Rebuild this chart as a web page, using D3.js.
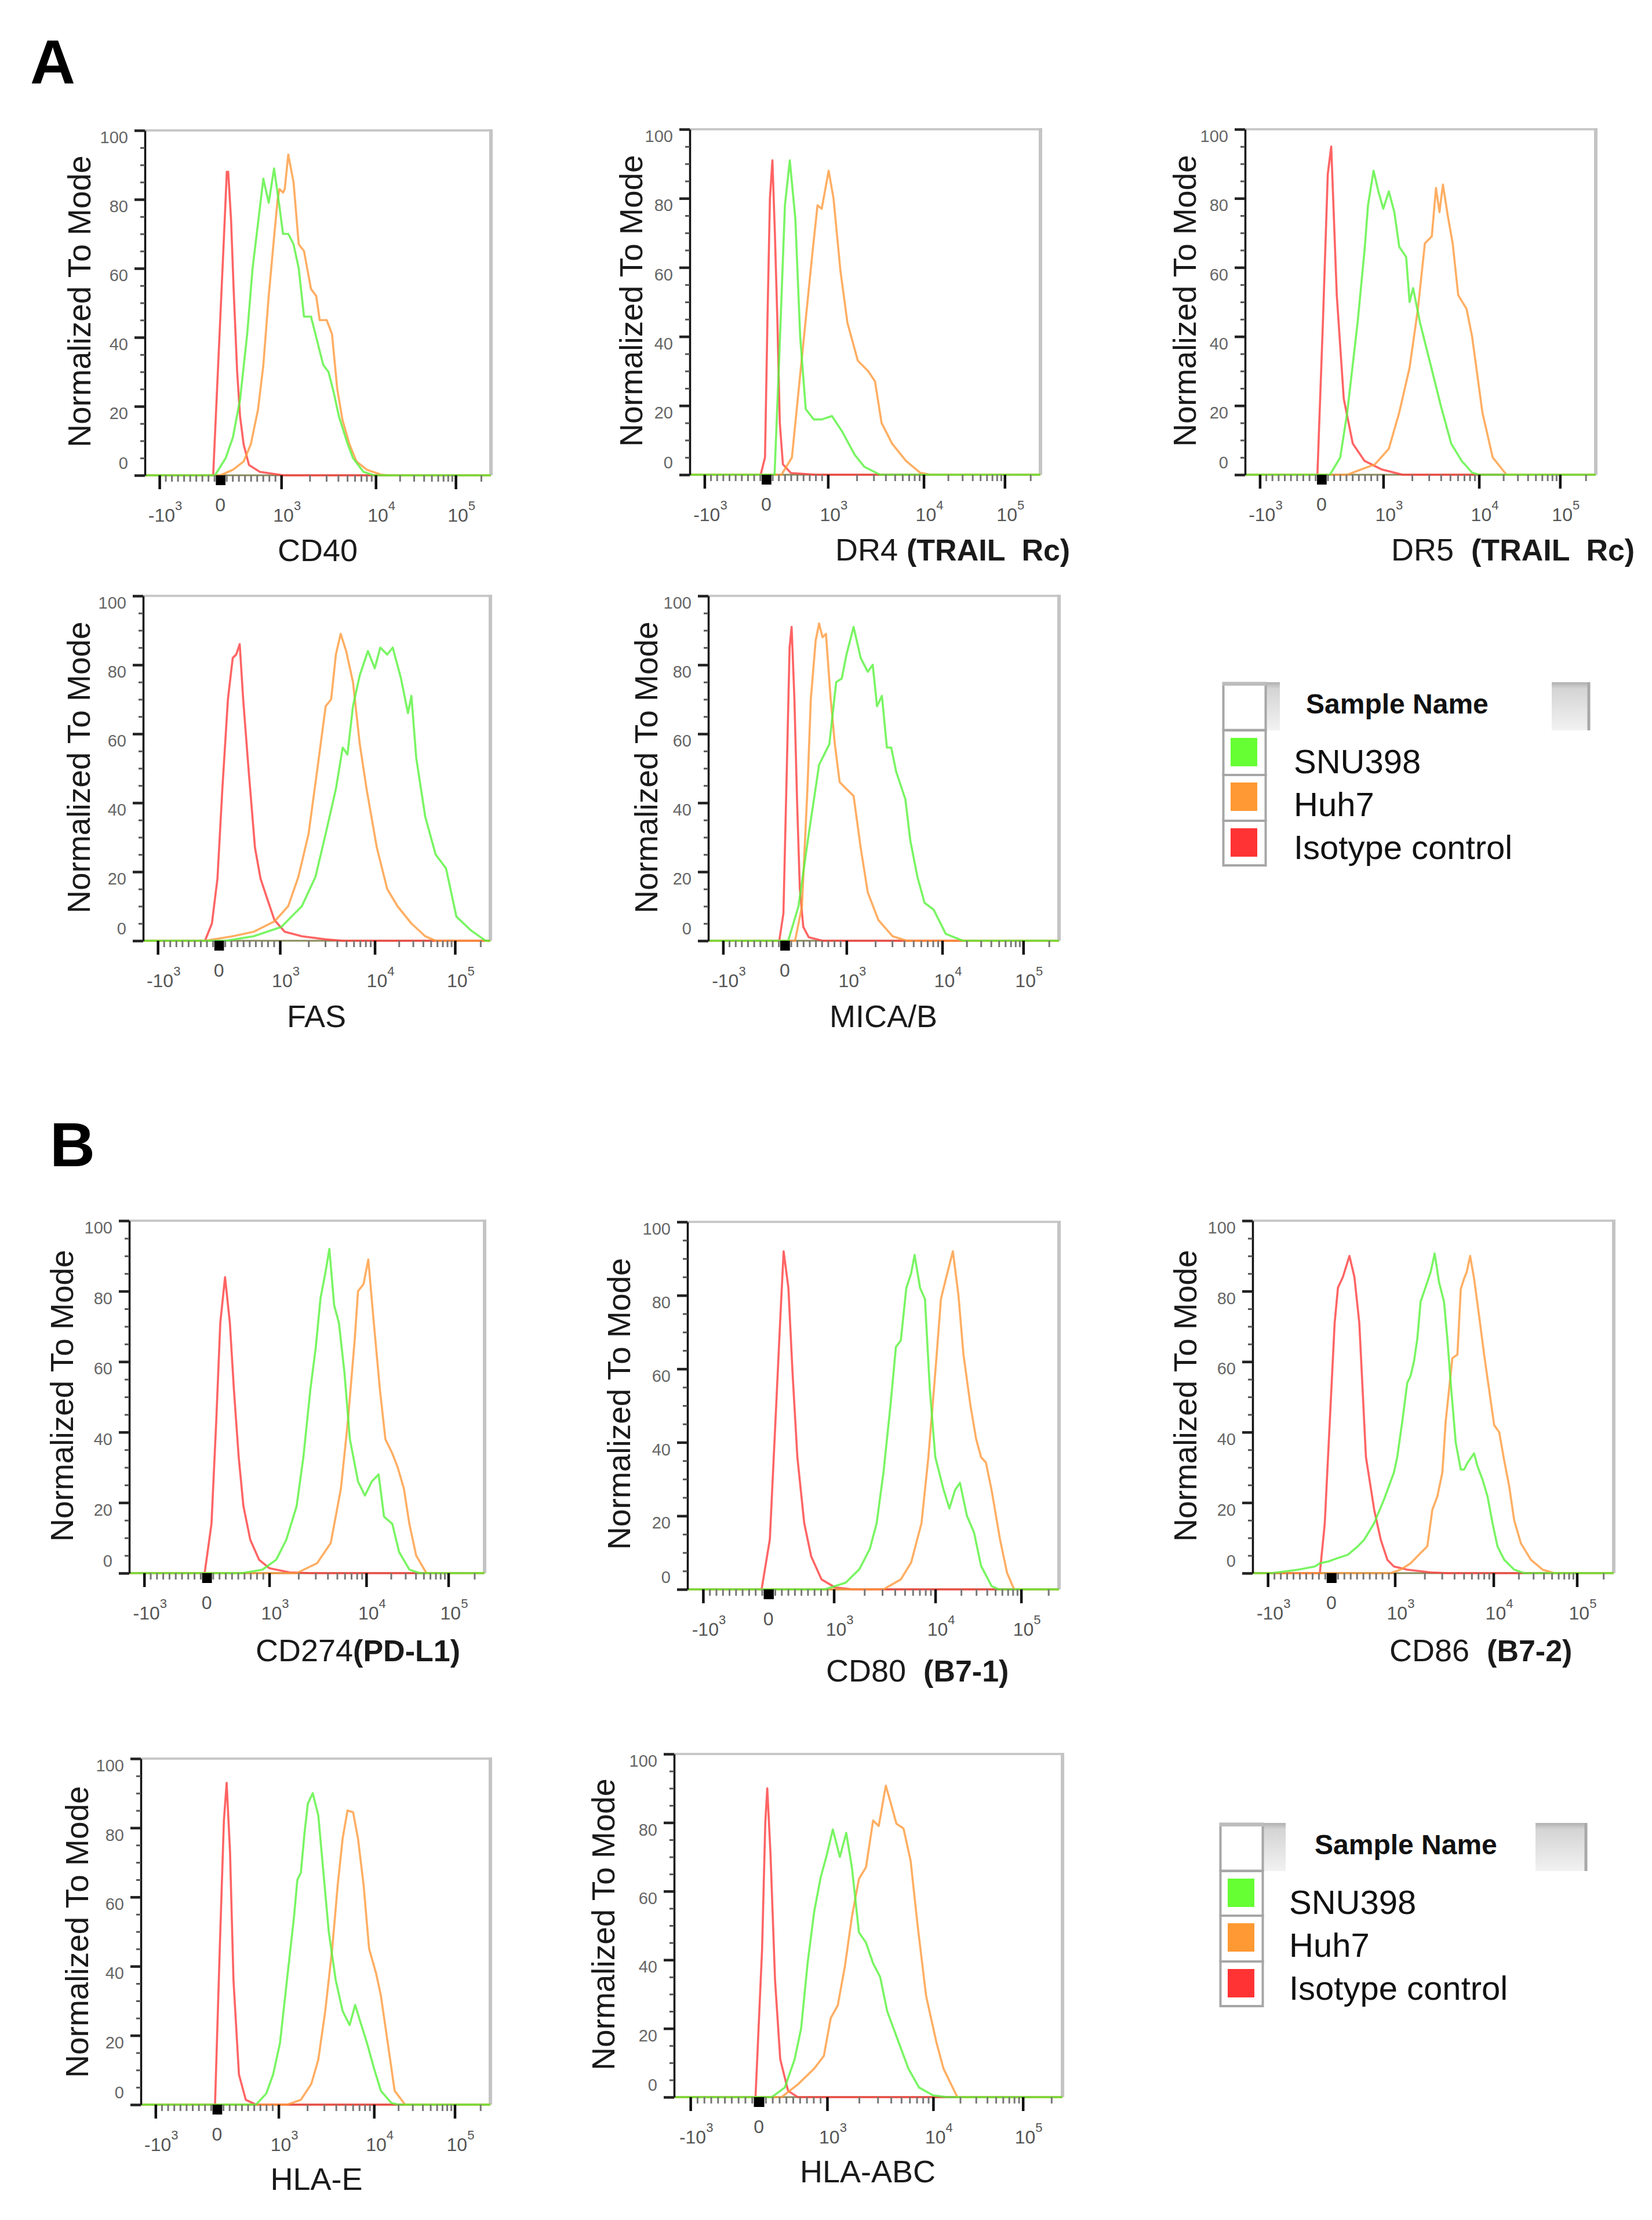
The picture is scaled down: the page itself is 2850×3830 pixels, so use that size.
<!DOCTYPE html>
<html>
<head>
<meta charset="utf-8">
<script src="https://cdn.jsdelivr.net/npm/d3@7"></script>
<style>
  body { margin: 0; background: #fff; }
  svg { display: block; }
  text { font-family: Arial, "Liberation Sans", sans-serif; }
</style>
</head>
<body>
<svg id="fig" width="2850" height="3830"></svg>
<script>
// ---------- samples ----------
var sampleNames = ["SNU398", "Huh7", "Isotype control"];
var swatchColors = ["#66ff33", "#ff9933", "#ff3333"];
var lineColors = ["#58f23c", "#ff9a3c", "#ff3d3d"];

// ---------- axis ticks ----------
var yMajorTicks = [0, 20, 40, 60, 80, 100];
var yMinorTicks = [5, 10, 15, 25, 30, 35, 45, 50, 55, 65, 70, 75, 85, 90, 95];
var xMajorTicks = [-1000, 1000, 10000, 100000];
var xZeroTicks = [-55, -18, 18, 55];
var xMinorTicks = [-900, -800, -700, -600, -500, -400, -300, -200, -100,
  100, 200, 300, 400, 500, 600, 700, 800, 900,
  2000, 3000, 4000, 5000, 6000, 7000, 8000, 9000,
  20000, 30000, 40000, 50000, 60000, 70000, 80000, 90000, 200000];
var xLabelVals = [-1000, 0, 1000, 10000, 100000];
var xLabelBase = ["-10", "0", "10", "10", "10"];
var xLabelExp = ["3", "", "3", "4", "5"];

// ---------- histograms: [fluorescence, % of mode] ----------
var cd40Snu = [[-1700,0],[-88,0],[88,5],[206,11],[324,22],[441,41],[529,60],[618,73],[706,86],[794,79],[882,89],[970,78],[1044,70],[1186,70],[1349,67],[1531,60],[1742,46],[2065,46],[2449,38],[2781,32],[3162,30],[3594,24],[4083,17],[5058,9],[5742,5],[7413,1],[9572,0],[262000,0]];
var cd40Huh = [[-1700,0],[0,0],[206,1.6],[382,4],[500,9],[618,19],[706,32],[794,52],[882,69],[941,80],[970,83],[1044,82],[1089,83],[1186,93],[1349,85],[1531,67],[1742,65],[2065,54],[2344,52],[2553,45],[3027,45],[3443,41],[3917,25],[4450,16],[5275,9],[6250,4],[8072,1.6],[11660,0.2],[14310,0],[262000,0]];
var cd40Iso = [[-1700,0],[-118,0],[-59,23],[0,46],[59,69],[106,88],[129,88],[176,74],[218,54],[276,30],[324,17],[382,9],[470,3],[647,1],[1050,0],[262000,0]];

var dr4Snu = [[-1700,0],[135,0],[213,35],[303,78],[382,91],[472,74],[550,40],[640,19],[770,16],[900,16],[1100,17],[1400,12.6],[1900,5.8],[2400,2.3],[3500,0],[262000,0]];
var dr4Huh = [[-1700,0],[247,0],[416,5],[584,35],[753,65],[831,78],[899,77],[1017,88],[1143,80],[1350,59],[1597,44],[2050,33],[2630,30],[3100,27],[3630,15],[4680,9],[6530,4],[9150,0.6],[12200,0],[262000,0]];
var dr4Iso = [[-1700,0],[-90,0],[-20,5],[20,45],[60,80],[100,91],[140,70],[180,45],[220,15],[270,3],[400,0.5],[800,0],[262000,0]];

var dr5Snu = [[-1700,0],[135,0],[303,5],[416,18],[584,44],[697,65],[753,78],[843,88],[921,82],[1000,77],[1143,82],[1306,76],[1469,66],[1735,63],[1884,50],[2051,54],[2421,44],[3112,32],[3990,20],[5128,9],[6590,4],[8471,0.6],[10000,0],[262000,0]];
var dr5Huh = [[-1700,0],[416,0],[640,1.5],[865,3],[1143,7.5],[1469,18],[1884,31],[2301,48],[2723,67],[3214,69],[3556,83],[3865,76],[4200,84],[4720,75],[5309,67],[6067,52],[7413,48],[8471,40],[11020,18],[14760,5],[21830,0],[262000,0]];
var dr5Iso = [[-1700,0],[-67,0],[22,44],[101,87],[157,95],[247,52],[360,22],[506,9],[697,4],[978,1.5],[1597,0],[262000,0]];

var fasSnu = [[-1700,0],[114,0],[568,1.3],[1033,4],[1700,10],[2366,18.5],[3033,31],[3890,44],[4590,56],[5150,54],[5890,68],[6950,77],[8470,84],[10000,79],[11720,85],[14300,83],[16750,85],[21270,76],[25950,66],[28640,71],[32900,53],[42580,36],[57390,25],[77300,21],[104000,7],[154500,3],[230000,0],[262000,0]];
var fasHuh = [[-1700,0],[-227,0],[227,1.3],[568,2.6],[909,5.6],[1220,10],[1563,18.5],[2004,31],[2570,53],[3033,68],[3467,70],[3890,83],[4370,89],[4990,84],[5890,75],[6950,57],[8200,44],[10610,27],[14300,15],[19240,10],[28640,5],[42580,1.3],[57390,0],[262000,0]];
var fasIso = [[-1700,0],[-227,0],[-114,5],[-23,18],[57,44],[148,70],[227,82],[284,83],[341,86],[398,70],[489,49],[591,27],[682,18],[795,12],[909,6],[1123,2.6],[1700,1.3],[3033,0.4],[4590,0],[262000,0]];

var micaSnu = [[-1700,0],[56,0],[222,10],[389,31],[556,51],[722,57],[833,75],[922,76],[1000,83],[1186,91],[1406,82],[1668,78],[1879,80],[2084,68],[2344,71],[2642,56],[2931,56],[3304,49],[4121,41],[4642,29],[5508,18.5],[6531,11],[8147,9],[11040,2],[18030,0],[262000,0]];
var micaHuh = [[-1700,0],[167,0],[278,10],[367,44],[422,70],[500,87],[556,92],[611,88],[667,89],[744,70],[811,57],[889,46],[1000,44],[1186,42],[1406,27],[1668,14],[2154,6],[3030,1.3],[4260,0],[262000,0]];
var micaIso = [[-1700,0],[-89,0],[-22,8],[33,50],[78,85],[111,91],[156,70],[200,40],[244,15],[300,4],[389,1],[611,0],[262000,0]];

var cd274Snu = [[-1700,0],[565,0],[891,1],[1180,3.8],[1500,9.5],[1914,19],[2250,33],[2650,52],[3015,64],[3375,78],[3777,85],[4165,92],[4667,76],[5226,71],[5953,57],[6780,38],[8225,26],[9683,22],[11660,26],[14130,28],[16480,16],[20740,14],[25120,6],[33500,1],[44670,0],[262000,0]];
var cd274Huh = [[-1700,0],[1914,0],[3110,2.8],[4300,8.5],[5480,24],[6460,43],[7590,66],[8225,80],[9370,82],[10590,89],[12360,71],[14680,52],[17110,38],[20740,34],[24170,30],[28710,24],[33500,14],[40550,5],[54070,0],[262000,0]];
var cd274Iso = [[-1700,0],[-33,0],[76,14],[152,43],[217,71],[293,84],[370,71],[435,52],[511,33],[587,19],[696,9.5],[837,3.8],[1000,1.4],[1626,0.2],[2650,0],[262000,0]];

var cd80Snu = [[-1700,0],[863,0],[1307,1.8],[1787,5.5],[2262,11],[2642,18],[3090,32],[3614,50],[4093,66],[4570,67.7],[5180,82],[5780,86],[6250,91],[7080,82],[7910,79],[8830,54.5],[10000,36],[12540,27],[14590,22],[16990,27],[19370,29],[23390,20],[28250,15.5],[34120,6.4],[45290,0.9],[54700,0],[262000,0]];
var cd80Huh = [[-1700,0],[3090,0],[4570,2.7],[5780,7.3],[7310,18],[8550,36],[10000,59],[11640,79],[13280,84.5],[16030,92],[18620,80],[21270,64],[25700,50],[29850,41],[34120,36],[38900,34.5],[45290,27],[56750,13.6],[68550,4.5],[82800,0],[262000,0]];
var cd80Iso = [[-1700,0],[-105,0],[21,13.6],[105,45],[179,73],[232,92],[305,82],[368,59],[442,36],[547,18],[653,9],[811,2.7],[1033,0.5],[1527,0],[262000,0]];

var cd86Snu = [[-1700,0],[-933,0],[-518,1],[-259,1.9],[-181,2.8],[-52,3.3],[104,4.3],[259,5.2],[415,7.6],[518,9.5],[674,14.2],[829,20.9],[984,28.5],[1057,33],[1188,43],[1335,54],[1443,56],[1560,60],[1687,66.5],[1823,77],[2133,82.6],[2307,85.5],[2531,90.7],[2800,82.6],[3150,77],[3404,66.5],[3681,54],[4141,37],[4657,29.4],[5036,29.4],[5446,31.3],[6355,34],[6871,30.4],[7730,26.6],[8695,21.8],[9772,14.2],[11170,7.6],[13430,3.8],[17700,1],[23330,0],[262000,0]];
var cd86Huh = [[-1700,0],[933,0],[1142,1],[1443,2.8],[1823,5.7],[2133,7.6],[2398,18],[2697,21.8],[3028,28.5],[3273,43],[3540,52],[3828,61],[4305,62],[4657,80.6],[5036,83.6],[5359,85.5],[5794,90],[6355,83.6],[7146,73],[8035,62],[9033,52],[10190,42],[11700,40],[13430,32],[15420,24.7],[17700,15],[21280,8.5],[28050,3.8],[38730,1],[53460,0],[262000,0]];
var cd86Iso = [[-1700,0],[-181,0],[-104,14],[-52,33],[0,52],[52,71],[104,81],[181,84],[285,90],[363,84],[440,71],[492,52],[544,33],[596,27],[674,18],[777,9.5],[881,3.8],[984,1.9],[1333,1],[2300,0.2],[3400,0],[262000,0]];

var hlaeSnu = [[-1700,0],[633,0],[800,3.2],[911,8.7],[1035,17.8],[1224,36],[1448,54],[1574,65],[1713,67],[1862,78],[2026,87],[2281,90],[2608,83.6],[2931,68],[3357,50],[3970,36],[4697,27],[5556,23],[6353,28.8],[7142,24.2],[8449,17.8],[10000,10.5],[12170,4],[16370,0.5],[19900,0],[262000,0]];
var hlaeHuh = [[-1700,0],[1224,0],[1713,1.4],[2203,6],[2608,13],[3083,27],[3648,45],[4169,63.5],[4697,77],[5280,85],[6038,84.5],[6792,77],[7780,63.5],[8892,45],[10610,38],[12170,31.5],[14820,17.8],[18030,4],[24270,0],[262000,0]];
var hlaeIso = [[-1700,0],[-33,0],[44,45],[111,82],[156,93],[211,73],[267,36],[356,8.7],[467,1.4],[633,0],[262000,0]];

var hlaabcSnu = [[-1700,0],[190,0],[381,2.8],[524,11],[619,20],[714,39],[810,54],[905,64],[1000,71],[1131,78],[1318,70],[1514,77],[1711,67],[1995,48],[2326,45],[2712,39],[3162,35],[3687,25],[4642,16.6],[5843,8.3],[7356,2.8],[10000,0.5],[14250,0],[262000,0]];
var hlaabcHuh = [[-1700,0],[333,0],[571,3.7],[810,8.3],[952,12],[1080,23],[1259,26.7],[1468,38],[1711,52.5],[1995,63.6],[2326,67],[2712,80.6],[3066,79],[3575,90.8],[3981,85.7],[4501,79.7],[5248,78.3],[6120,69],[7134,50],[8577,29.5],[10930,15.7],[13040,8.3],[18580,0],[262000,0]];
var hlaabcIso = [[-1700,0],[-48,0],[48,43],[95,80],[124,90],[171,71],[238,34],[314,11],[429,1.8],[571,0],[262000,0]];

// ---------- panels ----------
var markerNames = ["CD40", "DR4 ", "DR5  ", "FAS", "MICA/B", "CD274", "CD80  ", "CD86  ", "HLA-E", "HLA-ABC"];
var markerNotes = ["", "(TRAIL  Rc)", "(TRAIL  Rc)", "", "", "(PD-L1)", "(B7-1)", "(B7-2)", "", ""];
var panelSeries = [
  [cd40Snu, cd40Huh, cd40Iso], [dr4Snu, dr4Huh, dr4Iso], [dr5Snu, dr5Huh, dr5Iso],
  [fasSnu, fasHuh, fasIso], [micaSnu, micaHuh, micaIso],
  [cd274Snu, cd274Huh, cd274Iso], [cd80Snu, cd80Huh, cd80Iso], [cd86Snu, cd86Huh, cd86Iso],
  [hlaeSnu, hlaeHuh, hlaeIso], [hlaabcSnu, hlaabcHuh, hlaabcIso]
];

// frame [left, right, top, bottom], y title centre, x title anchor
var layout = [
  {box: [250, 847, 225, 820],   yt: [137, 520],   xt: [548, 968, "middle"]},
  {box: [1190, 1795, 223, 819], yt: [1089, 519],  xt: [1441, 967, "start"]},
  {box: [2148, 2753, 223, 819], yt: [2044, 519],  xt: [2400, 967, "start"]},
  {box: [247, 846, 1028, 1623], yt: [136, 1324],  xt: [546, 1772, "middle"]},
  {box: [1222, 1827, 1028, 1623], yt: [1115, 1324], xt: [1524, 1772, "middle"]},
  {box: [223, 836, 2106, 2714], yt: [107, 2408],  xt: [441, 2866, "start"]},
  {box: [1186, 1827, 2108, 2742], yt: [1068, 2422], xt: [1425, 2901, "start"]},
  {box: [2161, 2784, 2106, 2714], yt: [2045, 2408], xt: [2397, 2866, "start"]},
  {box: [243, 846, 3034, 3631], yt: [133, 3333],  xt: [546, 3778, "middle"]},
  {box: [1163, 1833, 3026, 3618], yt: [1041, 3320], xt: [1497, 3765, "middle"]}
];

// biexponential-style display: linear within +-1000, log decades outside
function toDisplay(v) {
  if (v > 1000) return 1 + Math.log10(v / 1000);
  if (v < -1000) return -1 - Math.log10(-v / 1000);
  return v / 1000;
}
var displayBreaks = [-1.24, -1, 0, 1, 2, 3, 1 + Math.log10(262.144)];
var displayFrac = [0, 0.042, 0.218, 0.394, 0.667, 0.898, 1];

function fluorScale(w) {
  var lin = d3.scaleLinear().domain(displayBreaks).range(displayFrac.map(function (f) { return f * w; }));
  var s = function (v) { return lin(toDisplay(v)); };
  s.domain = function () { return [-1738, 262144]; };
  s.range = function () { return [0, w]; };
  s.copy = function () { return s; };
  return s;
}

var svg = d3.select("#fig");
var defs = svg.append("defs");
var grad = defs.append("linearGradient").attr("id", "hdr")
  .attr("x1", 0).attr("y1", 0).attr("x2", 0).attr("y2", 1);
grad.append("stop").attr("offset", "0").attr("stop-color", "#b0b0b0");
grad.append("stop").attr("offset", "0.13").attr("stop-color", "#d4d4d4");
grad.append("stop").attr("offset", "1").attr("stop-color", "#f2f2f2");

function drawPanel(i) {
  var L = layout[i], b = L.box;
  var w = b[1] - b[0], h = b[3] - b[2];
  var g = svg.append("g").attr("transform", "translate(" + b[0] + "," + b[2] + ")");
  var x = fluorScale(w);
  var y = d3.scaleLinear().domain([0, 100]).range([h, 0]);

  // frame
  g.append("line").attr("x1", 0).attr("x2", w).attr("y1", 0).attr("y2", 0)
    .attr("stroke", "#c8c8c8").attr("stroke-width", 4);
  g.append("line").attr("x1", w).attr("x2", w).attr("y1", -2).attr("y2", h)
    .attr("stroke", "#c4c4c4").attr("stroke-width", 6);
  g.append("line").attr("x1", 0).attr("x2", w).attr("y1", h).attr("y2", h)
    .attr("stroke", "#8a8a5a").attr("stroke-width", 3);

  // histograms
  var clipId = "clip" + i;
  defs.append("clipPath").attr("id", clipId).append("rect")
    .attr("x", 0).attr("y", -10).attr("width", w).attr("height", h + 14);
  var line = d3.line().x(function (d) { return x(d[0]); }).y(function (d) { return y(d[1]); });
  var cg = g.append("g").attr("clip-path", "url(#" + clipId + ")");
  [2, 1, 0].forEach(function (k) {
    cg.append("path").datum(panelSeries[i][k])
      .attr("d", line)
      .attr("fill", "none")
      .attr("stroke", lineColors[k])
      .attr("stroke-width", 3.6)
      .attr("stroke-opacity", 0.8)
      .attr("stroke-linejoin", "round");
  });

  // y axis
  var yAxis = g.append("g").call(d3.axisLeft(y).tickValues(yMajorTicks).tickSize(18).tickSizeOuter(0).tickPadding(11));
  yAxis.select(".domain").attr("stroke", "#111").attr("stroke-width", 3.5);
  yAxis.selectAll(".tick line").attr("stroke", "#222").attr("stroke-width", 4.5);
  yAxis.selectAll(".tick text").attr("font-size", 29).attr("fill", "#666")
    .attr("font-family", "Arial, 'Liberation Sans', sans-serif")
    .attr("dy", function (d) { return d === 0 ? "-0.4em" : "0.75em"; });
  var yMinor = g.append("g").call(d3.axisLeft(y).tickValues(yMinorTicks).tickSize(8).tickFormat(""));
  yMinor.select(".domain").remove();
  yMinor.selectAll(".tick line").attr("stroke", "#555").attr("stroke-width", 3);

  // x axis
  var xg = g.append("g").attr("transform", "translate(0," + h + ")");
  var xMaj = xg.append("g").call(d3.axisBottom(x).tickValues(xMajorTicks).tickSize(24).tickFormat(""));
  xMaj.select(".domain").remove();
  xMaj.selectAll(".tick line").attr("stroke", "#111").attr("stroke-width", 4.5);
  var xMin = xg.append("g").call(d3.axisBottom(x).tickValues(xMinorTicks).tickSize(11).tickFormat(""));
  xMin.select(".domain").remove();
  xMin.selectAll(".tick line").attr("stroke", "#777").attr("stroke-width", 3);
  var xZero = xg.append("g").call(d3.axisBottom(x).tickValues(xZeroTicks).tickSize(17).tickFormat(""));
  xZero.select(".domain").remove();
  xZero.selectAll(".tick line").attr("stroke", "#000").attr("stroke-width", 5);

  var labs = xg.selectAll("text.xl").data(xLabelVals).enter().append("text")
    .attr("class", "xl")
    .attr("x", function (d) { return x(d) + (d === 0 ? 0 : 10); })
    .attr("y", function (d) { return d === 0 ? 62 : 80; })
    .attr("text-anchor", "middle")
    .attr("font-size", 32).attr("fill", "#555");
  labs.append("tspan").text(function (d, j) { return xLabelBase[j]; });
  labs.append("tspan").attr("font-size", 22).attr("dy", -20)
    .text(function (d, j) { return xLabelExp[j]; });

  // titles
  svg.append("text")
    .attr("transform", "translate(" + L.yt[0] + "," + L.yt[1] + ") rotate(-90)")
    .attr("text-anchor", "middle").attr("dominant-baseline", "central")
    .attr("font-size", 55).attr("fill", "#1a1a1a")
    .text("Normalized To Mode");
  var xt = svg.append("text").attr("x", L.xt[0]).attr("y", L.xt[1])
    .attr("text-anchor", L.xt[2]).attr("font-size", 54).attr("fill", "#1a1a1a")
    .attr("xml:space", "preserve");
  xt.append("tspan").text(markerNames[i]);
  if (markerNotes[i]) {
    xt.append("tspan").attr("font-weight", "bold").attr("font-size", 52).text(markerNotes[i]);
  }
}

for (var i = 0; i < markerNames.length; i++) drawPanel(i);

// ---------- legends ----------
function drawLegend(lx, ly, hdrLeftW, hdrRightX, titleX, nameX) {
  var g = svg.append("g").attr("transform", "translate(" + lx + "," + ly + ")");
  var rowTop = [83, 160, 239], rowH = [77, 79, 77];
  // header blocks
  g.append("rect").attr("x", 75).attr("y", 0).attr("width", hdrLeftW).attr("height", 83).attr("fill", "url(#hdr)");
  g.append("rect").attr("x", hdrRightX).attr("y", 0).attr("width", 634 - hdrRightX).attr("height", 83).attr("fill", "url(#hdr)");
  g.append("line").attr("x1", 632).attr("x2", 632).attr("y1", 0).attr("y2", 83)
    .attr("stroke", "#a8a8a8").attr("stroke-width", 5);
  // left column cells
  g.append("rect").attr("x", 1.5).attr("y", 1.5).attr("width", 73).attr("height", 81)
    .attr("fill", "#fff").attr("stroke", "#a6a6a6").attr("stroke-width", 4);
  g.append("rect").attr("x", 0).attr("y", 0).attr("width", 76).attr("height", 6).attr("fill", "#bdbdbd");
  g.selectAll("rect.cell").data(rowTop).enter().append("rect")
    .attr("class", "cell")
    .attr("x", 1.5).attr("y", function (d) { return d; })
    .attr("width", 73).attr("height", function (d, j) { return rowH[j]; })
    .attr("fill", "#fff").attr("stroke", "#a6a6a6").attr("stroke-width", 4);
  g.selectAll("rect.sw").data(sampleNames).enter().append("rect")
    .attr("class", "sw")
    .attr("x", 14).attr("y", function (d, j) { return rowTop[j] + 13; })
    .attr("width", 46).attr("height", 49)
    .attr("fill", function (d, j) { return swatchColors[j]; });
  g.append("text").attr("x", titleX).attr("y", 54)
    .attr("font-size", 48).attr("font-weight", "bold").attr("fill", "#111")
    .text("Sample Name");
  g.selectAll("text.nm").data(sampleNames).enter().append("text")
    .attr("class", "nm")
    .attr("x", nameX).attr("y", function (d, j) { return [157, 231, 305][j]; })
    .attr("font-size", 58).attr("fill", "#111")
    .text(function (d) { return d; });
}
drawLegend(2109, 1177, 24, 568, 144, 123);
drawLegend(2104, 3145, 39, 545, 164, 120);

// ---------- section letters ----------
svg.append("text").attr("x", 52).attr("y", 144).attr("font-size", 108)
  .attr("font-weight", "bold").attr("fill", "#000").text("A");
svg.append("text").attr("x", 86).attr("y", 2012).attr("font-size", 108)
  .attr("font-weight", "bold").attr("fill", "#000").text("B");
</script>
</body>
</html>
